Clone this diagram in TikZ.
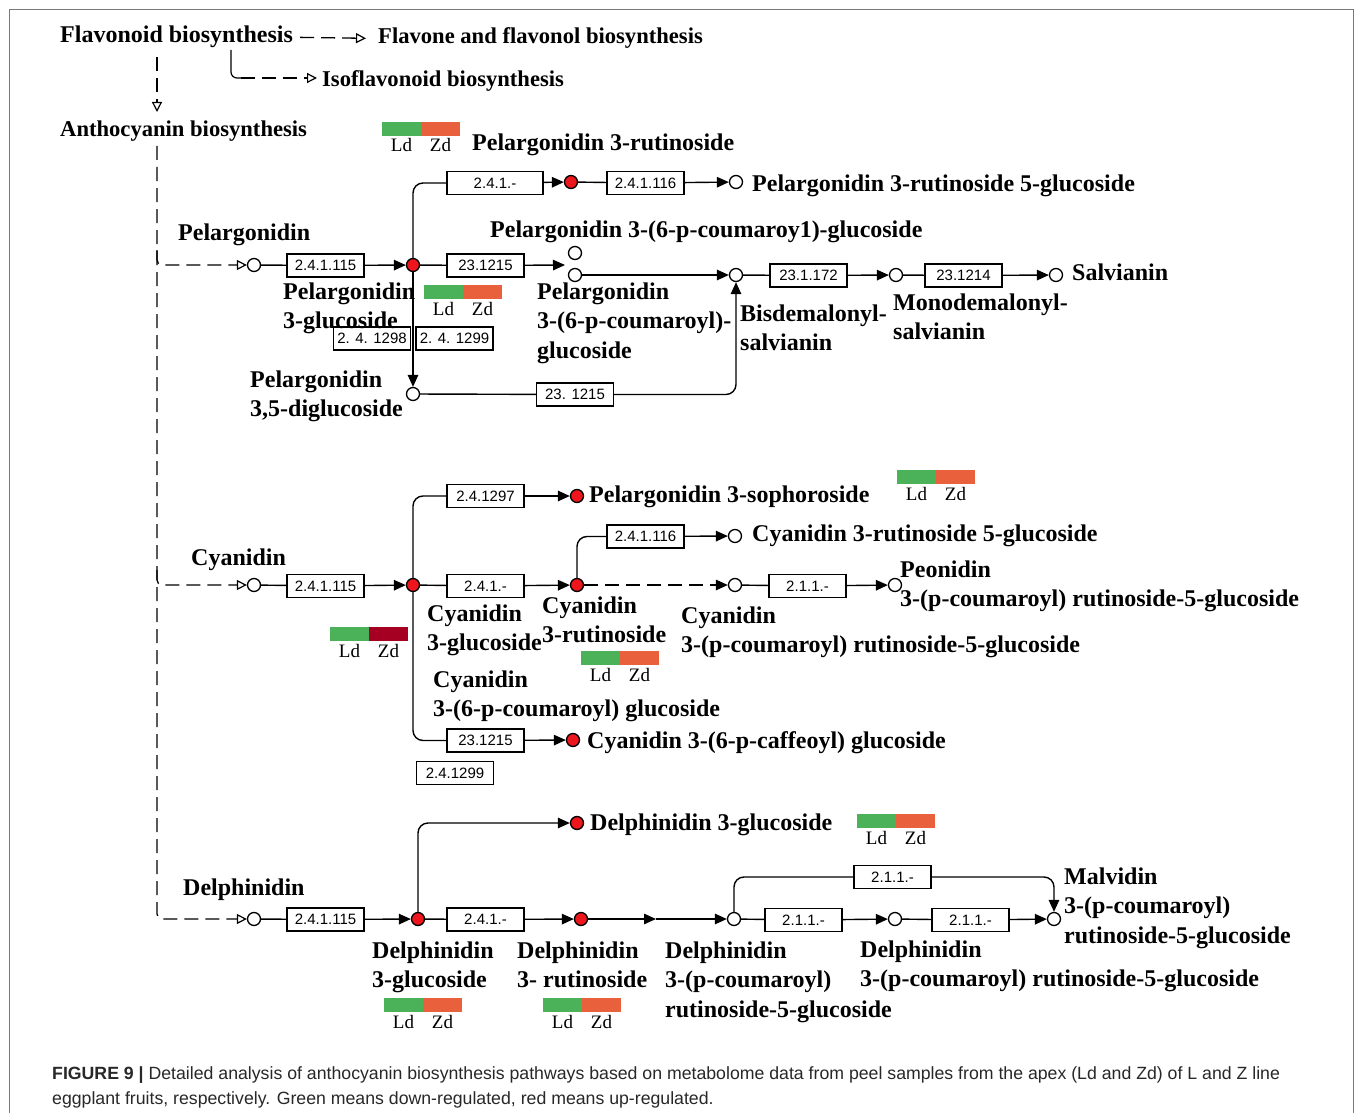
\documentclass[tikz,border=0pt]{standalone}
\usepackage{fontspec}
\setmainfont{Liberation Serif}
\setsansfont{Liberation Sans}
\usetikzlibrary{arrows.meta}
\definecolor{ldgreen}{RGB}{76,178,90}
\definecolor{zdred}{RGB}{232,96,60}
\definecolor{zddark}{RGB}{165,0,33}
\definecolor{dotred}{RGB}{236,22,28}
\definecolor{capgray}{RGB}{40,40,40}
\definecolor{framegray}{RGB}{120,120,120}
\newcommand{\lblfont}{\fontsize{24}{29.5}\selectfont\bfseries}
\newcommand{\toplblfont}{\fontsize{22.6}{27}\selectfont\bfseries}
\newcommand{\LdZdBar}[4]{%
  \fill[ldgreen] (#1,#2) rectangle ++(39,14);
  \fill[#3] (#1+39,#2) rectangle ++(39,14);
  \node[ldzd] (#4ld) at (#1+19.5,#2+30) {Ld};
  \node[ldzd] (#4zd) at (#1+58.5,#2+30) {Zd};
}
\begin{document}
\begin{tikzpicture}[x=1pt,y=-1pt,
  ln/.style={line width=1.4pt},
  arr/.style={line width=1.4pt,-{Triangle[length=12pt,width=10.5pt]}},
  dsh/.style={line width=1.3pt,dash pattern=on 14pt off 7pt},
  darr/.style={dsh,-{Triangle[open,length=10pt,width=10pt,line width=1.2pt]}},
  dfarr/.style={dsh,-{Triangle[length=12pt,width=10.5pt]}},
  cmp/.style={circle,draw,line width=1.3pt,fill=white,minimum size=13pt,inner sep=0pt},
  hit/.style={cmp,fill=dotred},
  enz/.style={draw,line width=1.3pt,minimum width=77pt,minimum height=23pt,inner sep=0pt,font=\fontsize{15}{15}\sffamily},
  lbl/.style={anchor=base west,inner sep=0pt,align=left,font=\lblfont},
  toplbl/.style={lbl,font=\toplblfont},
  ldzd/.style={font=\fontsize{19}{19}\selectfont,inner sep=0pt,anchor=base}]
\useasboundingbox (0,0) rectangle (1355,1113);
\fill[white] (0,0) rectangle (1355,1113);
\draw[framegray,line width=1.2pt] (9.5,1113) -- (9.5,9.5) -- (1353.5,9.5) -- (1353.5,1113);

% ---- top
\node[lbl] (flav) at (60,43) {Flavonoid biosynthesis};
\node[toplbl] (flavone) at (378,44) {Flavone and flavonol biosynthesis};
\node[toplbl] (iso) at (322,87) {Isoflavonoid biosynthesis};
\node[toplbl] (antho) at (60,137) {Anthocyanin biosynthesis};
\draw[darr,shorten <=7pt,shorten >=12pt] (flav.east) -- (flavone.west);
\coordinate (isotop) at (231,50);
\coordinate (isobend) at (241,78);
\coordinate (isoin) at (317,78);
\draw[line width=1.2pt,rounded corners=6pt] (isotop) |- (isobend);
\draw[darr] (isobend) -- (isoin);
\coordinate (fltop) at (157,57);
\coordinate (antin) at (157,112);
\draw[darr] (fltop) -- (antin);

% ---- spine
\coordinate (spTop) at (157,146);
\coordinate (spP) at (157,250);
\coordinate (spC) at (157,570);

% ---- Pelargonidin
\node[cmp] (p0) at (254,265) {};
\node[enz] (ep1) at (325.5,265.5) {2.4.1.115};
\node[hit] (p1) at (413,265) {};
\node[enz] (ep2) at (485.5,265.5) {23.1215};
\coordinate (pin) at (565,265);
\node[cmp] (pa) at (575,253) {};
\node[cmp] (pb) at (575,275) {};
\node[cmp] (pc) at (736,275) {};
\node[enz] (ep3) at (808.5,275.5) {23.1.172};
\node[cmp] (pd) at (896,275) {};
\node[enz] (ep4) at (963.5,275.5) {23.1214};
\node[cmp] (pe) at (1056,275) {};
\node[enz,minimum width=96pt] (ep5) at (495,183) {2.4.1.-};
\node[hit] (p2) at (571,182) {};
\node[enz] (ep7) at (645.5,183) {2.4.1.116};
\node[cmp] (p3) at (736,182) {};
\node[cmp] (p35) at (413,394) {};
\node[enz] (ep6) at (575,394.5) {23. 1215};
\node[enz] (ep8) at (372,338.5) {2. 4. 1298};
\node[enz] (ep9) at (454.5,338.5) {2. 4. 1299};

\draw[darr,rounded corners=5pt] (spP) |- (p0);
\draw[ln] (p0) -- (ep1);
\draw[arr] (ep1) -- (p1);
\draw[ln] (p1) -- (ep2);
\draw[arr] (ep2) -- (pin);
\draw[arr] (pb) -- (pc);
\draw[ln] (pc) -- (ep3);
\draw[arr] (ep3) -- (pd);
\draw[ln] (pd) -- (ep4);
\draw[arr] (ep4) -- (pe);
\draw[ln,rounded corners=10pt] (p1) |- (ep5);
\draw[arr] (ep5) -- (p2);
\draw[ln] (p2) -- (ep7);
\draw[arr] (ep7) -- (p3);
\draw[arr] (p1) -- (p35);
\draw[ln] (p35) -- (ep6);
\draw[arr,rounded corners=10pt] (ep6) -| (pc);

\node[lbl] (lp3r) at (472,150) {Pelargonidin 3-rutinoside};
\node[lbl] (lp3r5g) at (752,192) {Pelargonidin 3-rutinoside 5-glucoside};
\node[lbl] (lpel) at (178,240) {Pelargonidin};
\node[lbl] (lpcg) at (490,237) {Pelargonidin 3-(6-p-coumaroy1)-glucoside};
\node[lbl] (lp3g) at (283,328.5) {Pelargonidin\\3-glucoside};
\node[lbl] (lpcg2) at (537,358) {Pelargonidin\\3-(6-p-coumaroyl)-\\glucoside};
\node[lbl] (lbis) at (740,350.5) {Bisdemalonyl-\\salvianin};
\node[lbl] (lmono) at (893,339.5) {Monodemalonyl-\\salvianin};
\node[lbl] (lsal) at (1072,280) {Salvianin};
\node[lbl] (lp35) at (250,416.5) {Pelargonidin\\3,5-diglucoside};
\LdZdBar{382}{122}{zdred}{b1}
\LdZdBar{424}{285}{zdred}{b2}

% ---- Cyanidin
\node[cmp] (c0) at (254,585) {};
\node[enz] (ec1) at (325.5,586) {2.4.1.115};
\node[hit] (c1) at (413,585) {};
\node[enz] (ec2) at (485.5,586) {2.4.1.-};
\node[hit] (c2) at (577,585) {};
\node[cmp] (c3) at (735,585) {};
\node[enz] (ec3) at (807.5,586) {2.1.1.-};
\node[cmp] (c4) at (895,585) {};
\node[enz] (ec4) at (645.5,536.5) {2.4.1.116};
\node[cmp] (c5) at (735,536) {};
\node[enz] (ec5) at (485.5,496) {2.4.1297};
\node[hit] (c6) at (577,496) {};
\node[enz] (ec6) at (485.5,740.5) {23.1215};
\node[hit] (c7) at (573,740) {};
\node[enz] (ec7) at (455,773) {2.4.1299};

\draw[darr,rounded corners=5pt] (spC) |- (c0);
\draw[ln] (c0) -- (ec1);
\draw[arr] (ec1) -- (c1);
\draw[ln] (c1) -- (ec2);
\draw[arr] (ec2) -- (c2);
\draw[dfarr] (c2) -- (c3);
\draw[ln] (c3) -- (ec3);
\draw[arr] (ec3) -- (c4);
\draw[ln,rounded corners=10pt] (c2) |- (ec4);
\draw[arr] (ec4) -- (c5);
\draw[ln,rounded corners=10pt] (c1) |- (ec5);
\draw[arr] (ec5) -- (c6);
\draw[ln,rounded corners=10pt] (c1) |- (ec6);
\draw[arr] (ec6) -- (c7);

\node[lbl] (lps) at (589,502) {Pelargonidin 3-sophoroside};
\node[lbl] (lc3r5g) at (752,541) {Cyanidin 3-rutinoside 5-glucoside};
\node[lbl] (lcy) at (191,565) {Cyanidin};
\node[lbl] (lpeo) at (900,606.5) {Peonidin\\3-(p-coumaroyl) rutinoside-5-glucoside};
\node[lbl] (lc3g) at (427,650.5) {Cyanidin\\3-glucoside};
\node[lbl] (lc3r) at (542,642.5) {Cyanidin\\3-rutinoside};
\node[lbl] (lccr) at (681,652.5) {Cyanidin\\3-(p-coumaroyl) rutinoside-5-glucoside};
\node[lbl] (lccg) at (433,716.5) {Cyanidin\\3-(6-p-coumaroyl) glucoside};
\node[lbl] (lccaf) at (587,748) {Cyanidin 3-(6-p-caffeoyl) glucoside};
\LdZdBar{897}{470}{zdred}{b3}
\LdZdBar{330}{627}{zddark}{b4}
\LdZdBar{581}{651}{zdred}{b5}

% ---- Delphinidin
\node[cmp] (d0) at (254,919) {};
\node[enz] (ed1) at (325.5,919.5) {2.4.1.115};
\node[hit] (d1) at (418,919) {};
\node[enz] (ed2) at (485.5,919.5) {2.4.1.-};
\node[hit] (d2) at (581,919) {};
\coordinate (dmid) at (656,919);
\node[cmp] (d3) at (734,919) {};
\node[enz] (ed3) at (803.5,920) {2.1.1.-};
\node[cmp] (d4) at (895,919) {};
\node[enz] (ed4) at (970.5,920) {2.1.1.-};
\node[cmp] (d5) at (1054,919) {};
\node[enz] (ed5) at (892.5,877) {2.1.1.-};
\node[hit] (d6) at (577,823) {};

\draw[darr,rounded corners=5pt] (spTop) |- (d0);
\draw[ln] (d0) -- (ed1);
\draw[arr] (ed1) -- (d1);
\draw[ln] (d1) -- (ed2);
\draw[arr] (ed2) -- (d2);
\draw[arr] (d2) -- (dmid);
\draw[arr] (dmid) -- (d3);
\draw[ln] (d3) -- (ed3);
\draw[arr] (ed3) -- (d4);
\draw[ln] (d4) -- (ed4);
\draw[arr] (ed4) -- (d5);
\draw[ln,rounded corners=10pt] (d3) |- (ed5);
\draw[arr,rounded corners=10pt] (ed5) -| (d5);
\draw[arr,rounded corners=10pt] (d1) |- (d6);

\node[lbl] (ld3g) at (590,830) {Delphinidin 3-glucoside};
\node[lbl] (ldel) at (183,895) {Delphinidin};
\node[lbl] (lmal) at (1064,943) {Malvidin\\3-(p-coumaroyl)\\rutinoside-5-glucoside};
\node[lbl] (ld3g2) at (372,987.5) {Delphinidin\\3-glucoside};
\node[lbl] (ld3r) at (517,987.5) {Delphinidin\\3- rutinoside};
\node[lbl] (ldcr) at (665,1017) {Delphinidin\\3-(p-coumaroyl)\\rutinoside-5-glucoside};
\node[lbl] (ldcr2) at (860,986.5) {Delphinidin\\3-(p-coumaroyl) rutinoside-5-glucoside};
\LdZdBar{857}{814}{zdred}{b6}
\LdZdBar{384}{998}{zdred}{b7}
\LdZdBar{543}{998}{zdred}{b8}

% ---- caption
\node[anchor=base west,inner sep=0pt,align=left,text=capgray,font=\fontsize{17.7}{25}\sffamily] (cap) at (52,1104)
  {\textbf{FIGURE 9 |} Detailed analysis of anthocyanin biosynthesis pathways based on metabolome data from peel samples from the apex (Ld and Zd) of L and Z line\\eggplant fruits, respectively. Green means down-regulated, red means up-regulated.};
\end{tikzpicture}
\end{document}
